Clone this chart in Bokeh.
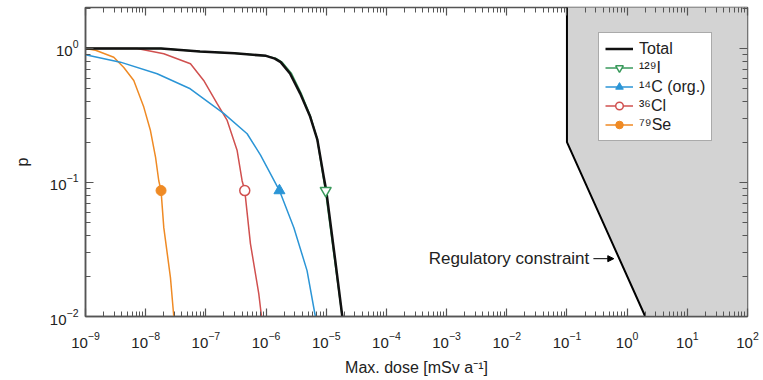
from bokeh.plotting import figure
from bokeh.models import (LogAxis, FixedTicker, Legend, LegendItem, Label, Arrow,
                          NormalHead, Range1d, CustomJSTickFormatter)
from bokeh.embed import file_html
from bokeh.resources import INLINE

# ---- data ----
total_x = [1e-9, 1.8e-8, 8e-8, 3e-7, 1.0e-6, 1.4e-6, 1.75e-6, 2.5e-6, 3.7e-6, 5.4e-6, 7.1e-6, 9.1e-6, 1.0e-5, 1.4e-5, 1.85e-5]
total_p = [1.0, 1.0, 0.95, 0.92, 0.88, 0.84, 0.79, 0.65, 0.46, 0.31, 0.21, 0.11, 0.087, 0.027, 0.01]

i129_x = [1e-9, 1.8e-8, 8e-8, 3e-7, 1.0e-6, 1.48e-6, 1.85e-6, 2.65e-6, 3.85e-6, 5.5e-6, 7.1e-6, 8.9e-6, 9.7e-6, 1.37e-5, 1.84e-5]
i129_p = [1.0, 1.0, 0.95, 0.92, 0.88, 0.84, 0.79, 0.65, 0.46, 0.31, 0.21, 0.11, 0.087, 0.027, 0.01]

c14_x = [1e-9, 3.8e-9, 1.55e-8, 5.5e-8, 2.0e-7, 4.85e-7, 8.1e-7, 1.67e-6, 2.9e-6, 4.8e-6, 6.6e-6]
c14_p = [0.897, 0.79, 0.647, 0.50, 0.326, 0.231, 0.16, 0.087, 0.046, 0.022, 0.01]

cl36_x = [1e-9, 7.2e-9, 2.0e-8, 5.55e-8, 9.2e-8, 1.54e-7, 2.26e-7, 3.31e-7, 4.0e-7, 4.43e-7, 5.5e-7, 7.57e-7, 8.4e-7]
cl36_p = [1.0, 1.0, 0.913, 0.769, 0.577, 0.387, 0.29, 0.173, 0.103, 0.087, 0.035, 0.0148, 0.01]

se79_x = [1e-9, 1.47e-9, 2.95e-9, 4.33e-9, 6.34e-9, 9.3e-9, 1.2e-8, 1.46e-8, 1.65e-8, 1.8e-8, 2.0e-8, 2.58e-8, 2.93e-8]
se79_p = [1.0, 0.97, 0.86, 0.72, 0.577, 0.365, 0.244, 0.154, 0.103, 0.087, 0.046, 0.0195, 0.01]

# marker positions (one marker per curve)
marker_x = {"i129": 9.8e-6, "c14": 1.67e-6, "cl36": 4.43e-7, "se79": 1.8e-8}
marker_p = 0.087

# regulatory constraint
reg_x = [0.1, 0.1, 2.0]
reg_p = [2.2, 0.2, 0.01]

x_min, x_max = 1e-9, 1e2
p_min, p_max = 0.01, 2.02
x_decades = list(range(-9, 3))
y_decades = [-2, -1, 0]

labels = ["Total", "\u00b9\u00b2\u2079I", "\u00b9\u2074C (org.)", "\u00b3\u2076Cl", "\u2077\u2079Se"]
colors = {"total": "#111111", "i129": "#3a9a5c", "c14": "#2b95d6", "cl36": "#d0504f", "se79": "#ef8a24"}

# annotation placement (data coordinates)
reg_label_x, reg_label_p = 0.235, 0.027
arrow_x0, arrow_x1 = 0.275, 0.6

FONT = "Liberation Sans"
AXC = "#555555"


def log_ticker(decades, top):
    major = [10.0 ** k for k in decades]
    minor = [m * 10.0 ** k for k in decades for m in range(2, 10) if m * 10.0 ** k <= top]
    return FixedTicker(ticks=major, minor_ticks=minor)


def style_ticks(ax):
    ax.major_tick_line_color = AXC
    ax.minor_tick_line_color = AXC
    ax.major_tick_line_width = 1.2
    ax.minor_tick_line_width = 1.0
    ax.major_tick_in = 8
    ax.major_tick_out = 0
    ax.minor_tick_in = 5
    ax.minor_tick_out = 0


p = figure(width=763, height=380, x_axis_type="log", y_axis_type="log",
           x_range=Range1d(x_min, x_max), y_range=Range1d(p_min, p_max),
           output_backend="svg", toolbar_location=None,
           min_border_left=85, min_border_right=16, min_border_top=7, min_border_bottom=64)
p.xgrid.visible = False
p.ygrid.visible = False
p.outline_line_color = AXC
p.outline_line_width = 1.5
p.background_fill_color = "white"
p.border_fill_color = "white"

# shaded region
p.patch(reg_x + [x_max, x_max], reg_p + [p_min, reg_p[0]], fill_color="#d3d3d3", line_color=None)
p.line(reg_x, reg_p, line_color="black", line_width=2)

# curves
r_se = p.line(se79_x, se79_p, line_color=colors["se79"], line_width=1.5)
r_cl = p.line(cl36_x, cl36_p, line_color=colors["cl36"], line_width=1.5)
r_c = p.line(c14_x, c14_p, line_color=colors["c14"], line_width=1.5)
r_i = p.line(i129_x, i129_p, line_color=colors["i129"], line_width=1.5)
r_t = p.line(total_x, total_p, line_color=colors["total"], line_width=2.5)

m_se = p.scatter([marker_x["se79"]], [marker_p], marker="circle", size=10,
                 fill_color=colors["se79"], line_color=colors["se79"])
m_cl = p.scatter([marker_x["cl36"]], [marker_p], marker="circle", size=10,
                 fill_color="white", line_color=colors["cl36"], line_width=1.5)
m_c = p.scatter([marker_x["c14"]], [marker_p], marker="triangle", size=11,
                fill_color=colors["c14"], line_color=colors["c14"])
m_i = p.scatter([marker_x["i129"]], [marker_p], marker="inverted_triangle", size=11,
                fill_color="white", line_color=colors["i129"], line_width=1.5)

# axes
p.xaxis[0].ticker = log_ticker(x_decades, x_max)
p.yaxis[0].ticker = log_ticker(y_decades, p_max)
for ax in (p.xaxis[0], p.yaxis[0]):
    ax.axis_line_color = AXC
    ax.axis_line_width = 1.5
    style_ticks(ax)
    ax.major_label_text_font = FONT
    ax.major_label_text_font_size = "15px"
    ax.major_label_text_color = "#222222"
    ax.axis_label_text_font = FONT
    ax.axis_label_text_font_size = "16px"
    ax.axis_label_text_font_style = "normal"
    ax.axis_label_text_color = "#222222"

p.xaxis[0].axis_label = "Max. dose [mSv a\u207b\u00b9]"
p.xaxis[0].major_label_standoff = 15
p.xaxis[0].axis_label_standoff = 8
p.yaxis[0].axis_label = "p"
p.yaxis[0].major_label_standoff = 7
p.yaxis[0].axis_label_standoff = 16

blank = CustomJSTickFormatter(code="return ''")
for loc, tk in (("above", log_ticker(x_decades, x_max)), ("right", log_ticker(y_decades, p_max))):
    ax = LogAxis(ticker=tk, formatter=blank)
    ax.axis_line_color = None
    style_ticks(ax)
    ax.major_label_standoff = 0
    ax.major_label_text_font_size = "1px"
    p.add_layout(ax, loc)

# annotations
p.add_layout(Label(x=reg_label_x, y=reg_label_p, text="Regulatory constraint",
                   text_align="right", text_baseline="middle",
                   text_font=FONT, text_font_size="17px", text_color="#222222"))
p.add_layout(Arrow(end=NormalHead(size=6, line_color="black", fill_color="black"),
                   x_start=arrow_x0, y_start=reg_label_p, x_end=arrow_x1, y_end=reg_label_p,
                   line_color="black", line_width=1))

legend = Legend(items=[
    LegendItem(label=labels[0], renderers=[r_t]),
    LegendItem(label=labels[1], renderers=[r_i, m_i]),
    LegendItem(label=labels[2], renderers=[r_c, m_c]),
    LegendItem(label=labels[3], renderers=[r_cl, m_cl]),
    LegendItem(label=labels[4], renderers=[r_se, m_se]),
], location=(513, 175))
legend.border_line_color = AXC
legend.border_line_width = 1
legend.background_fill_color = "white"
legend.background_fill_alpha = 1
legend.label_text_font = FONT
legend.label_text_font_size = "16px"
legend.label_text_color = "#222222"
legend.glyph_width = 28
legend.glyph_height = 19
legend.label_height = 19
legend.label_standoff = 6
legend.spacing = 0
legend.padding = 6
legend.margin = 0
p.add_layout(legend, "center")

open("out.html", "w").write(file_html(p, INLINE))
